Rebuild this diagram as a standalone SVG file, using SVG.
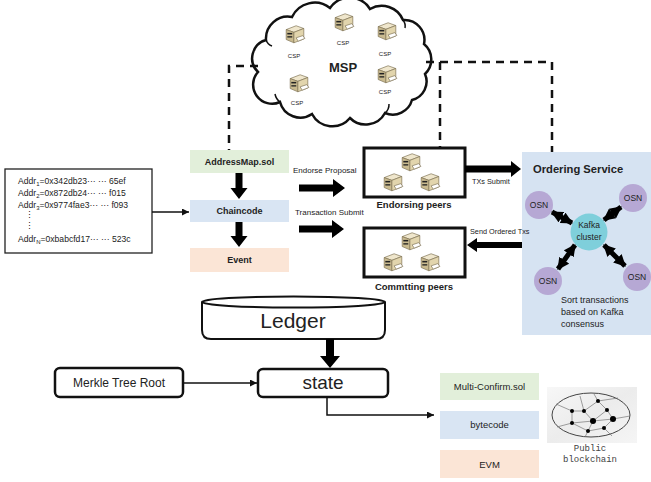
<svg xmlns="http://www.w3.org/2000/svg" width="651" height="482" viewBox="0 0 651 482">
  <style>
    text { font-family: "Liberation Sans", Arial, sans-serif; fill: #222; }
    .b { font-weight: bold; }
    .addr { font-size: 8.6px; }
    .lbl { font-size: 8px; }
    .small { font-size: 7.3px; }
    .csp { font-size: 6px; }
    .osn-t { font-size: 8.5px; text-anchor: middle; }
    .mono { font-family: "Liberation Mono", "Courier New", monospace; font-size: 9px; fill: #444; }
    .dash { fill: none; stroke: #111; stroke-width: 2.5; stroke-dasharray: 8 6; }
    .thin { fill: none; stroke: #111; stroke-width: 1.5; }
    .blk { fill: #000; }
    .osn { fill: #b6a8d4; }
    .net { stroke: #777; stroke-width: 0.7; fill: none; }
  </style>
  <defs>
    <!-- little beige server icon -->
    <symbol id="server" viewBox="0 0 20 18">
      <polygon points="2,5 11,1.5 18,4 9,7.5" fill="#efe6cc" stroke="#7a6e50" stroke-width="0.6"/>
      <polygon points="2,5 9,7.5 9,17 2,14" fill="#c9ba8f" stroke="#7a6e50" stroke-width="0.6"/>
      <polygon points="9,7.5 18,4 18,13.5 9,17" fill="#e2d5ad" stroke="#7a6e50" stroke-width="0.6"/>
      <rect x="3" y="8" width="4.5" height="1.4" fill="#222"/>
      <rect x="3" y="11" width="4.5" height="1.2" fill="#222"/>
      <polygon points="11,12.5 17,10.5 19,13 13,15.5" fill="#fff" stroke="#7a6e50" stroke-width="0.6"/>
    </symbol>
    <marker id="ah" viewBox="0 0 10 10" refX="10" refY="5" markerWidth="7" markerHeight="7" markerUnits="userSpaceOnUse" orient="auto-start-reverse">
      <path d="M0,0 L10,5 L0,10 z" fill="#111"/>
    </marker>
    <marker id="fat" viewBox="0 0 10 10" refX="9" refY="5" markerWidth="12" markerHeight="12" markerUnits="userSpaceOnUse" orient="auto-start-reverse">
      <path d="M0,0 L10,5 L0,10 z" fill="#000"/>
    </marker>
    <linearGradient id="imgbg" x1="0" y1="0" x2="1" y2="1">
      <stop offset="0" stop-color="#f7f7f7"/>
      <stop offset="0.5" stop-color="#ececec"/>
      <stop offset="1" stop-color="#f5f5f5"/>
    </linearGradient>
  </defs>

  <!-- MSP cloud -->
  <g id="msp">
    <path d="M258,72 A19,19 0 0 1 266,40 A22,22 0 0 1 292,17 A25,25 0 0 1 330,8 A24,24 0 0 1 370,9 A23,23 0 0 1 403,20 A20,20 0 0 1 424,44 A20,20 0 0 1 425,74 A19,19 0 0 1 412,100 A20,20 0 0 1 385,113 A22,22 0 0 1 350,118 A23,23 0 0 1 312,114 A21,21 0 0 1 280,102 A19,19 0 0 1 258,72 Z" fill="#fff" stroke="#111" stroke-width="2.5"/>
    <path d="M280,102 A13,13 0 0 1 275,94" class="thin"/>
    <path d="M385,113 A11,11 0 0 0 389,104" class="thin"/>
    <path d="M266,40 A10,10 0 0 0 272,46" class="thin"/>
    <path d="M403,20 A10,10 0 0 1 405,28" class="thin"/>
    <text x="343" y="72" class="b" font-size="13" text-anchor="middle">MSP</text>
    <use href="#server" x="284" y="24" width="22" height="20"/>
    <text x="294" y="58" class="csp" text-anchor="middle">CSP</text>
    <use href="#server" x="333" y="12" width="22" height="20"/>
    <text x="343" y="45" class="csp" text-anchor="middle">CSP</text>
    <use href="#server" x="376" y="21" width="22" height="20"/>
    <text x="385" y="56" class="csp" text-anchor="middle">CSP</text>
    <use href="#server" x="288" y="73" width="22" height="20"/>
    <text x="297" y="105" class="csp" text-anchor="middle">CSP</text>
    <use href="#server" x="376" y="64" width="22" height="20"/>
    <text x="385" y="94" class="csp" text-anchor="middle">CSP</text>
  </g>

  <!-- address list -->
  <g id="addresses">
    <rect x="5" y="169" width="147" height="84" fill="#fff" stroke="#222" stroke-width="1.3"/>
    <text x="18" y="184" class="addr">Addr<tspan font-size="6" dy="2">1</tspan><tspan dy="-2">=0x342db23··· ··· 65ef</tspan></text>
    <text x="18" y="196" class="addr">Addr<tspan font-size="6" dy="2">2</tspan><tspan dy="-2">=0x872db24··· ··· f015</tspan></text>
    <text x="18" y="208" class="addr">Addr<tspan font-size="6" dy="2">3</tspan><tspan dy="-2">=0x9774fae3··· ··· f093</tspan></text>
    <text x="25" y="218" class="addr">⋮</text>
    <text x="25" y="229" class="addr">⋮</text>
    <text x="18" y="242" class="addr">Addr<tspan font-size="6" dy="2">N</tspan><tspan dy="-2">=0xbabcfd17··· ··· 523c</tspan></text>
  </g>

  <!-- chaincode stack -->
  <g id="addressmap">
    <rect x="190" y="150" width="99" height="23" fill="#e2efda"/>
    <text x="239.5" y="165" class="b" font-size="9" text-anchor="middle">AddressMap.sol</text>
  </g>
  <g id="chaincode">
    <rect x="190" y="200" width="99" height="22" fill="#d9e5f3"/>
    <text x="239.5" y="214" class="b" font-size="9" text-anchor="middle">Chaincode</text>
  </g>
  <g id="event">
    <rect x="190" y="248" width="99" height="24" fill="#fbe5d6"/>
    <text x="239.5" y="263" class="b" font-size="9" text-anchor="middle">Event</text>
  </g>

  <!-- peers -->
  <g id="endorsing-peers">
    <rect x="364" y="148" width="101" height="49" fill="#fff" stroke="#111" stroke-width="3"/>
    <use href="#server" x="400" y="152" width="22" height="20"/>
    <use href="#server" x="382" y="172" width="22" height="20"/>
    <use href="#server" x="419" y="172" width="22" height="20"/>
    <text x="414" y="208" class="b" font-size="9.5" text-anchor="middle">Endorsing peers</text>
  </g>
  <g id="committing-peers">
    <rect x="364" y="228" width="101" height="49" fill="#fff" stroke="#111" stroke-width="3"/>
    <use href="#server" x="400" y="231" width="22" height="20"/>
    <use href="#server" x="382" y="252" width="22" height="20"/>
    <use href="#server" x="419" y="252" width="22" height="20"/>
    <text x="414" y="290" class="b" font-size="9.5" text-anchor="middle">Commtting peers</text>
  </g>

  <!-- ordering service -->
  <g id="ordering-service">
    <rect x="522" y="152" width="129" height="183" fill="#d6e3f2"/>
    <text x="533" y="173" class="b" font-size="11.2">Ordering Service</text>
    <g id="kafka-links" stroke="#000" stroke-width="5" fill="none">
      <line x1="572" y1="223" x2="552" y2="212" marker-start="url(#fat)" marker-end="url(#fat)"/>
      <line x1="604" y1="220" x2="621" y2="207" marker-start="url(#fat)" marker-end="url(#fat)"/>
      <line x1="575" y1="245" x2="558" y2="269" marker-start="url(#fat)" marker-end="url(#fat)"/>
      <line x1="604" y1="245" x2="625" y2="266" marker-start="url(#fat)" marker-end="url(#fat)"/>
    </g>
    <circle cx="589" cy="232" r="18.5" fill="#7fcfdb"/>
    <text x="589" y="228" class="osn-t">Kafka</text>
    <text x="589" y="240" class="osn-t">cluster</text>
    <circle cx="539" cy="205" r="14" class="osn"/>
    <text x="539" y="208" class="osn-t">OSN</text>
    <circle cx="633" cy="198" r="14" class="osn"/>
    <text x="633" y="201" class="osn-t">OSN</text>
    <circle cx="548" cy="281" r="14" class="osn"/>
    <text x="548" y="284" class="osn-t">OSN</text>
    <circle cx="637" cy="277" r="14" class="osn"/>
    <text x="637" y="280" class="osn-t">OSN</text>
    <text x="561" y="303" font-size="9">Sort transactions</text>
    <text x="561" y="315" font-size="9">based on Kafka</text>
    <text x="561" y="327" font-size="9">consensus</text>
  </g>

  <!-- ledger -->
  <g id="ledger">
    <path d="M202,302 V330 Q202,339 211,339 H376 Q385,339 385,330 V302" fill="#fff" stroke="#111" stroke-width="2"/>
    <ellipse cx="293.5" cy="302" rx="91.5" ry="5.5" fill="#fff" stroke="#111" stroke-width="2"/>
    <text x="293" y="328" font-size="21" text-anchor="middle">Ledger</text>
  </g>
  <g id="state">
    <rect x="258" y="369" width="130" height="28" rx="5" fill="#fff" stroke="#111" stroke-width="2.5"/>
    <text x="323" y="389" font-size="19" text-anchor="middle">state</text>
  </g>
  <g id="merkle-root">
    <rect x="55" y="368" width="128" height="29" rx="5" fill="#fff" stroke="#111" stroke-width="2.5"/>
    <text x="119" y="387" font-size="12" text-anchor="middle">Merkle Tree Root</text>
  </g>

  <!-- public chain side -->
  <g id="multi-confirm">
    <rect x="440" y="373" width="99" height="27" fill="#e2efda"/>
    <text x="489.5" y="390" font-size="9.5" text-anchor="middle">Multi-Confirm.sol</text>
  </g>
  <g id="bytecode">
    <rect x="440" y="411" width="99" height="28" fill="#d9e5f3"/>
    <text x="489.5" y="428" font-size="9.5" text-anchor="middle">bytecode</text>
  </g>
  <g id="evm">
    <rect x="440" y="450" width="99" height="28" fill="#fbe5d6"/>
    <text x="489.5" y="468" font-size="9.5" text-anchor="middle">EVM</text>
  </g>
  <g id="public-blockchain">
    <rect x="547" y="387" width="90" height="56" fill="url(#imgbg)"/>
    <ellipse cx="591" cy="415" rx="39" ry="22" fill="none" stroke="#444" stroke-width="1"/>
    <g class="net">
      <path d="M572,411 L584,411 L598,401 L607,410 L613,419 L604,428 L588,431 L572,423 L572,411"/>
      <path d="M584,411 L593,421 L607,410 M593,421 L588,431 M593,421 L572,423 M593,421 L613,419"/>
      <path d="M572,411 L556,404 M598,401 L594,394 M598,401 L618,398 M613,419 L630,416 M604,428 L612,436 M572,423 L557,427 M588,431 L585,437 M584,411 L580,396"/>
    </g>
    <g fill="#000">
      <circle cx="572" cy="411" r="2"/>
      <circle cx="584" cy="411" r="2"/>
      <circle cx="598" cy="401" r="2"/>
      <circle cx="607" cy="410" r="2"/>
      <circle cx="593" cy="421" r="3"/>
      <circle cx="613" cy="419" r="3"/>
      <circle cx="572" cy="423" r="2"/>
      <circle cx="588" cy="431" r="2"/>
      <circle cx="604" cy="428" r="2"/>
    </g>
    <text x="590" y="451" class="mono" text-anchor="middle">Public</text>
    <text x="590" y="462" class="mono" text-anchor="middle">blockchain</text>
  </g>

  <!-- connectors -->
  <g id="connectors">
    <path class="dash" d="M258,66 H229 V150"/>
    <path class="dash" d="M426,62 H552 V152"/>
    <path class="dash" d="M440,62 V148"/>

    <line x1="152" y1="212" x2="189" y2="212" class="thin" marker-end="url(#ah)"/>

    <!-- chaincode flow -->
    <polygon class="blk" points="235.5,173 242.5,173 242.5,188 247.5,188 239,199 230.5,188 235.5,188"/>
    <polygon class="blk" points="235.5,222 242.5,222 242.5,236 247.5,236 239,247 230.5,236 235.5,236"/>

    <!-- endorse / submit arrows -->
    <polygon class="blk" points="299,184.5 333,184.5 333,179 345,188 333,197 333,191.5 299,191.5"/>
    <text x="293" y="173" class="lbl">Endorse Proposal</text>
    <polygon class="blk" points="299,225.5 332,225.5 332,220 344,229 332,238 332,232.5 299,232.5"/>
    <text x="295" y="215" class="lbl">Transaction Submit</text>

    <polygon class="blk" points="465,165.5 511,165.5 511,161 521,169 511,177 511,172.5 465,172.5"/>
    <text x="472" y="184" class="small">TXs Submit</text>
    <polygon class="blk" points="522,242 477,242 477,238 467,245 477,252 477,248 522,248"/>
    <text x="470" y="234" class="small">Send Ordered Txs</text>

    <!-- ledger to state -->
    <polygon class="blk" points="326,339 334,339 334,356 340,356 330,368 320,356 326,356"/>
    <line x1="183" y1="383" x2="257" y2="383" class="thin" marker-end="url(#ah)"/>
    <path d="M327,397 V415 H434" class="thin" marker-end="url(#ah)"/>
  </g>
</svg>
